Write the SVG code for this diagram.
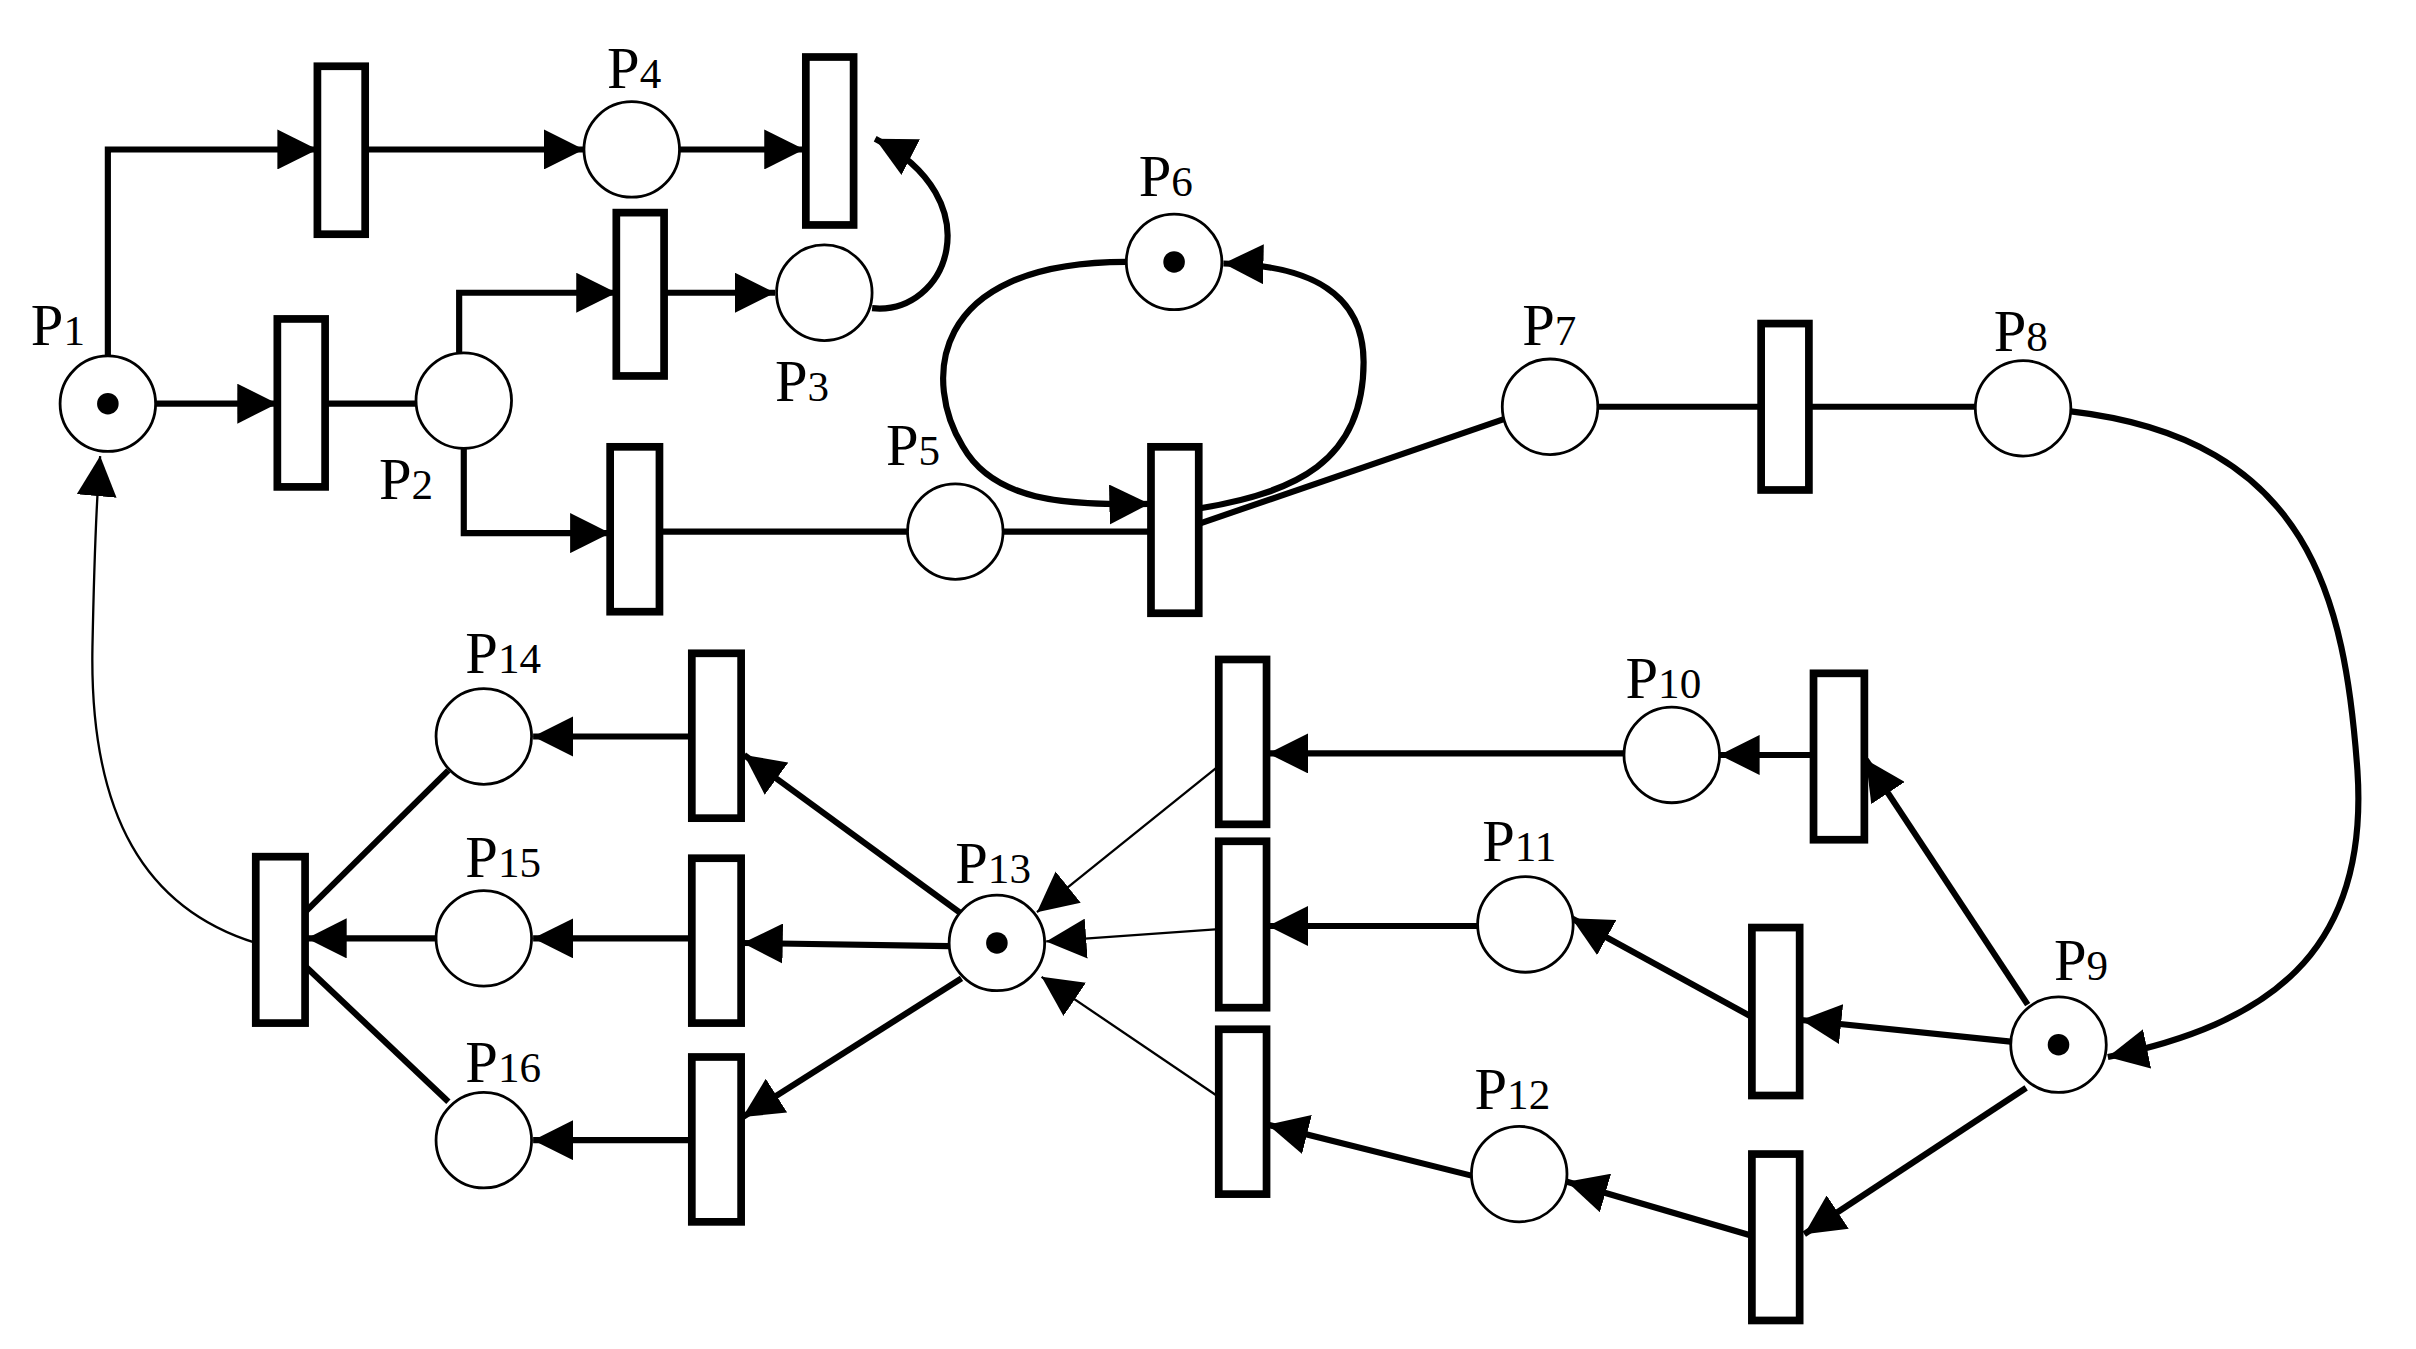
<svg xmlns="http://www.w3.org/2000/svg" width="2416" height="1349" viewBox="0 0 2416 1349">
<style>
.pl{fill:#fff;stroke:#000;stroke-width:1.8}
.tr{fill:#fff;stroke:#000;stroke-width:5}
.a{fill:none;stroke:#000;stroke-width:4}
.th{fill:none;stroke:#000;stroke-width:1.5}
.lb{font-family:"Liberation Serif","Times New Roman",serif;font-size:38px;fill:#000}
.sb{font-size:28px}
</style>
<defs>
<marker id="ar" viewBox="0 0 10 10" refX="10" refY="5" markerUnits="userSpaceOnUse" markerWidth="26" markerHeight="26" orient="auto"><path d="M0,0 L10,5 L0,10 z" fill="#000"/></marker>
</defs>
<rect width="2416" height="1349" fill="#fff"/>
<g transform="scale(1.5408)">
<g id="connectors">
<path class="a" d="M70,231 V97 H206" marker-end="url(#ar)"/>
<path class="a" d="M237,97 H379" marker-end="url(#ar)"/>
<path class="a" d="M441,97 H522" marker-end="url(#ar)"/>
<path class="a" d="M566,200 C615,205 645,130 568,90" marker-end="url(#ar)"/>
<path class="a" d="M101,262 H180" marker-end="url(#ar)"/>
<path class="a" d="M211,262 H270"/>
<path class="a" d="M298,229 V190 H400" marker-end="url(#ar)"/>
<path class="a" d="M431,190 H503" marker-end="url(#ar)"/>
<path class="a" d="M301,291 V346 H396" marker-end="url(#ar)"/>
<path class="a" d="M428,345 H589"/>
<path class="a" d="M651,345 H747"/>
<path class="a" d="M731,170 C600,170 600,250 625,290 C645,325 690,328 746,327" marker-end="url(#ar)"/>
<path class="a" d="M778,330 C840,320 885,300 885,235 C885,190 850,172 794,171" marker-end="url(#ar)"/>
<path class="a" d="M778,340 L976,272"/>
<path class="a" d="M1037,264 H1143"/>
<path class="a" d="M1174,264 H1282"/>
<path class="a" d="M1344,267 C1500,285 1522,390 1530,500 C1538,620 1470,665 1368,686" marker-end="url(#ar)"/>
<path class="a" d="M1316,652 L1211,493" marker-end="url(#ar)"/>
<path class="a" d="M1177,490 H1116" marker-end="url(#ar)"/>
<path class="a" d="M1054,489 H823" marker-end="url(#ar)"/>
<path class="a" d="M1305,676 L1169,662" marker-end="url(#ar)"/>
<path class="a" d="M1137,660 L1020,596" marker-end="url(#ar)"/>
<path class="a" d="M959,601 H823" marker-end="url(#ar)"/>
<path class="a" d="M1315,706 L1171,801" marker-end="url(#ar)"/>
<path class="a" d="M1137,802 L1017,767" marker-end="url(#ar)"/>
<path class="a" d="M955,763 L823,730" marker-end="url(#ar)"/>
<path class="th" d="M791,497 L673,592" marker-end="url(#ar)"/>
<path class="th" d="M791,603 L679,611" marker-end="url(#ar)"/>
<path class="th" d="M791,712 L676,634" marker-end="url(#ar)"/>
<path class="a" d="M624,593 L483,490" marker-end="url(#ar)"/>
<path class="a" d="M616,614 L482,612" marker-end="url(#ar)"/>
<path class="a" d="M624,635 L482,725" marker-end="url(#ar)"/>
<path class="a" d="M449,478 H346" marker-end="url(#ar)"/>
<path class="a" d="M449,609 H346" marker-end="url(#ar)"/>
<path class="a" d="M449,740 H346" marker-end="url(#ar)"/>
<path class="a" d="M291,500 L198,592"/>
<path class="a" d="M283,609 H199" marker-end="url(#ar)"/>
<path class="a" d="M291,715 L198,627"/>
<path class="th" d="M166,612 C95,590 58,530 60,420 C61,370 62,330 65,296" marker-end="url(#ar)"/>
</g>
<g id="T1"><rect class="tr" x="206" y="43" width="31" height="109"/></g>
<g id="T2"><rect class="tr" x="523" y="37" width="31" height="109"/></g>
<g id="T3"><rect class="tr" x="180" y="207" width="31" height="109"/></g>
<g id="T4"><rect class="tr" x="400" y="138" width="31" height="106"/></g>
<g id="T5"><rect class="tr" x="396" y="290" width="32" height="107"/></g>
<g id="T6"><rect class="tr" x="747" y="290" width="31" height="108"/></g>
<g id="T7"><rect class="tr" x="1143" y="210" width="31" height="108"/></g>
<g id="T8"><rect class="tr" x="1177" y="437" width="33" height="108"/></g>
<g id="T9"><rect class="tr" x="1137" y="602" width="31" height="109"/></g>
<g id="T10"><rect class="tr" x="1137" y="749" width="31" height="108"/></g>
<g id="T11"><rect class="tr" x="791" y="428" width="31" height="107"/></g>
<g id="T12"><rect class="tr" x="791" y="546" width="31" height="108"/></g>
<g id="T13"><rect class="tr" x="791" y="668" width="31" height="107"/></g>
<g id="T14"><rect class="tr" x="449" y="424" width="32" height="107"/></g>
<g id="T15"><rect class="tr" x="449" y="557" width="32" height="107"/></g>
<g id="T16"><rect class="tr" x="449" y="686" width="32" height="107"/></g>
<g id="T17"><rect class="tr" x="166" y="556" width="32" height="108"/></g>
<g id="P1"><circle class="pl" cx="70" cy="262" r="31"/><circle cx="70" cy="262" r="7"/><text class="lb" x="20" y="224">P<tspan class="sb">1</tspan></text></g>
<g id="P2"><circle class="pl" cx="301" cy="260" r="31"/><text class="lb" x="246" y="324">P<tspan class="sb">2</tspan></text></g>
<g id="P3"><circle class="pl" cx="535" cy="190" r="31"/><text class="lb" x="503" y="260">P<tspan class="sb">3</tspan></text></g>
<g id="P4"><circle class="pl" cx="410" cy="97" r="31"/><text class="lb" x="394" y="57">P<tspan class="sb">4</tspan></text></g>
<g id="P5"><circle class="pl" cx="620" cy="345" r="31"/><text class="lb" x="575" y="302">P<tspan class="sb">5</tspan></text></g>
<g id="P6"><circle class="pl" cx="762" cy="170" r="31"/><circle cx="762" cy="170" r="7"/><text class="lb" x="739" y="127">P<tspan class="sb">6</tspan></text></g>
<g id="P7"><circle class="pl" cx="1006" cy="264" r="31"/><text class="lb" x="988" y="224">P<tspan class="sb">7</tspan></text></g>
<g id="P8"><circle class="pl" cx="1313" cy="265" r="31"/><text class="lb" x="1294" y="228">P<tspan class="sb">8</tspan></text></g>
<g id="P9"><circle class="pl" cx="1336" cy="678" r="31"/><circle cx="1336" cy="678" r="7"/><text class="lb" x="1333" y="636">P<tspan class="sb">9</tspan></text></g>
<g id="P10"><circle class="pl" cx="1085" cy="490" r="31"/><text class="lb" x="1055" y="453">P<tspan class="sb">10</tspan></text></g>
<g id="P11"><circle class="pl" cx="990" cy="600" r="31"/><text class="lb" x="962" y="559">P<tspan class="sb">11</tspan></text></g>
<g id="P12"><circle class="pl" cx="986" cy="762" r="31"/><text class="lb" x="957" y="720">P<tspan class="sb">12</tspan></text></g>
<g id="P13"><circle class="pl" cx="647" cy="612" r="31"/><circle cx="647" cy="612" r="7"/><text class="lb" x="620" y="573">P<tspan class="sb">13</tspan></text></g>
<g id="P14"><circle class="pl" cx="314" cy="478" r="31"/><text class="lb" x="302" y="437">P<tspan class="sb">14</tspan></text></g>
<g id="P15"><circle class="pl" cx="314" cy="609" r="31"/><text class="lb" x="302" y="569">P<tspan class="sb">15</tspan></text></g>
<g id="P16"><circle class="pl" cx="314" cy="740" r="31"/><text class="lb" x="302" y="702">P<tspan class="sb">16</tspan></text></g>
</g>
</svg>
